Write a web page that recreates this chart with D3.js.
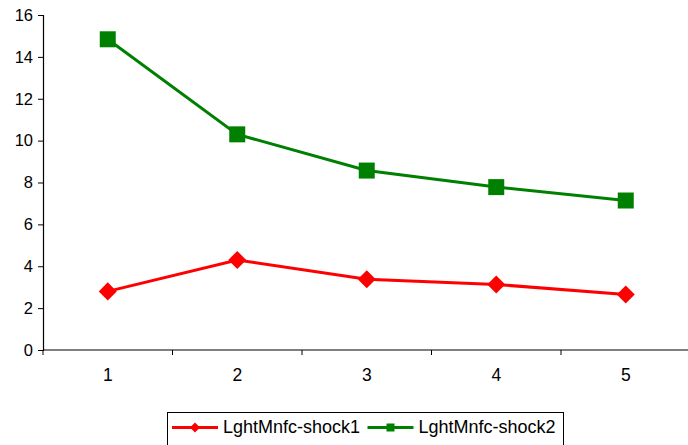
<!DOCTYPE html>
<html><head><meta charset="utf-8">
<script src="https://cdn.jsdelivr.net/npm/d3@7"></script>
<style>body{margin:0;background:#fff}svg{display:block}text{font-family:"Liberation Sans",Arial,sans-serif}</style>
</head><body><svg id="c" width="688" height="445"></svg>
<script>
const categories = ["1","2","3","4","5"];
const shock1 = [2.80, 4.30, 3.38, 3.13, 2.65];
const shock2 = [14.84, 10.30, 8.57, 7.78, 7.14];
const seriesNames = ["LghtMnfc-shock1","LghtMnfc-shock2"];
const yTicks = [0,2,4,6,8,10,12,14,16];

(function(){
const svg = d3.select("#c");
const pLeft = 43, pRight = 690.5, pTop = 15, pBottom = 350;
const x = d3.scaleBand().domain(categories).range([pLeft, pRight]);
const y = d3.scaleLinear().domain([0,16]).range([pBottom, pTop]);

// y axis
const ya = svg.append("g").attr("transform",`translate(${pLeft},0)`)
  .call(d3.axisLeft(y).tickValues(yTicks).tickSize(5).tickPadding(5).tickFormat(d3.format("d")));
ya.select(".domain").attr("stroke","#000").attr("stroke-width",1.2);
ya.selectAll("line").attr("stroke","#000");
ya.selectAll("text").attr("font-size",16.5).attr("fill","#000");

// x axis with ticks at band boundaries
const xa = svg.append("g").attr("transform",`translate(0,${pBottom})`);
xa.append("line").attr("x1",pLeft).attr("x2",688).attr("stroke","#000").attr("stroke-width",1.2);
const bounds = categories.map(c=>x(c)).concat([x(categories[categories.length-1])+x.bandwidth()]);
xa.selectAll("line.t").data(bounds).join("line").attr("class","t")
  .attr("x1",d=>d).attr("x2",d=>d).attr("y1",0).attr("y2",5).attr("stroke","#000");
xa.selectAll("text").data(categories).join("text")
  .attr("x",d=>x(d)+x.bandwidth()/2).attr("y",30.5).attr("text-anchor","middle")
  .attr("font-size",17.5).attr("fill","#000").text(d=>d);

const cx = (d,i)=>x(categories[i])+x.bandwidth()/2;
const line = d3.line().x(cx).y(d=>y(d));

svg.append("path").datum(shock2).attr("d",line).attr("fill","none").attr("stroke","#008000").attr("stroke-width",3);
svg.append("path").datum(shock1).attr("d",line).attr("fill","none").attr("stroke","#ff0000").attr("stroke-width",3);

const sq = d3.symbol().type(d3.symbolSquare).size(256);
const dm = d3.symbol().type(d3.symbolSquare).size(162);
svg.selectAll("path.s2").data(shock2).join("path").attr("class","s2")
  .attr("d",sq).attr("transform",(d,i)=>`translate(${cx(d,i)},${y(d)})`).attr("fill","#008000");
svg.selectAll("path.s1").data(shock1).join("path").attr("class","s1")
  .attr("d",dm).attr("transform",(d,i)=>`translate(${cx(d,i)},${y(d)}) rotate(45)`).attr("fill","#ff0000");

// legend
const lg = svg.append("g");
lg.append("rect").attr("x",167.5).attr("y",412.5).attr("width",396).attr("height",40)
  .attr("fill","#fff").attr("stroke","#000").attr("stroke-width",1);
const items = [
  {name:seriesNames[0], color:"#ff0000", d:d3.symbol().type(d3.symbolSquare).size(50)(), rot:45, x0:172},
  {name:seriesNames[1], color:"#008000", d:d3.symbol().type(d3.symbolSquare).size(64)(), rot:0, x0:367.5}
];
items.forEach(it=>{
  lg.append("line").attr("x1",it.x0).attr("x2",it.x0+46).attr("y1",427.5).attr("y2",427.5)
    .attr("stroke",it.color).attr("stroke-width",3);
  lg.append("path").attr("d",it.d).attr("transform",`translate(${it.x0+23},427.5) rotate(${it.rot})`).attr("fill",it.color);
  lg.append("text").attr("x",it.x0+51).attr("y",433).attr("font-size",18).attr("fill","#000").text(it.name);
});
})();
</script></body></html>
